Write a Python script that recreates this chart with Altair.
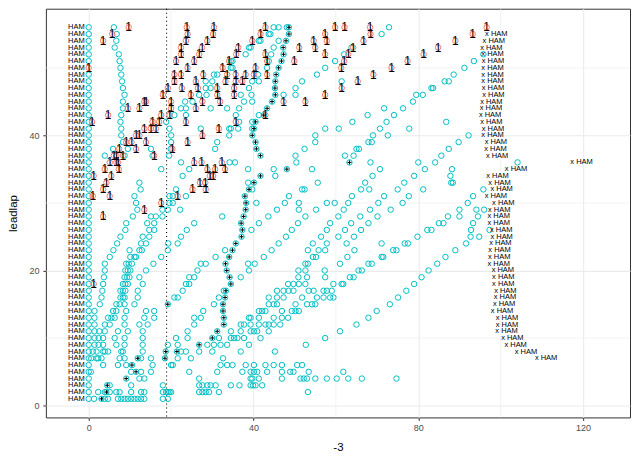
import altair as alt
import pandas as pd

# ---------------- data (gap to leader, seconds) per lap ----------------
# teal open circles, laps 1-14
TEAL_01_14 = [
    [0, 1.3, 3.9, 4.7, 7.1, 7.9, 8.7, 9.5, 10.3, 11.1, 11.9, 12.7, 13.5, 18.0, 19.2],
    [0, 2.3, 3.9, 5.1, 6.7, 7.5, 10.3, 12.7, 13.5, 18.0, 18.8, 19.2, 19.6, 20.0, 26.8, 27.6, 28.4, 29.2, 31.6, 53.2],
    [0, 5.1, 10.3, 18.0, 26.8, 27.6, 28.8, 29.6, 30.8, 34.5, 36.6, 39.3, 39.9, 40.5, 42.1],
    [0, 12.3, 13.5, 26.8, 39.3, 39.7, 41.3, 46.9, 51.4, 52.2, 53.0, 55.0, 57.8, 60.2, 63.0, 66.3, 74.7],
    [0, 0.5, 10.3, 12.7, 15.1, 24.4, 31.2, 37.3, 39.3, 40.1, 40.9, 43.3, 46.9, 48.9, 49.7, 53.4, 61.8],
    [0, 3.5, 7.1, 9.1, 15.5, 20.0, 20.4, 32.0, 33.6, 34.9, 38.1, 40.1, 42.9, 44.9, 46.9, 50.6, 51.8],
    [0, 0.6, 1.9, 2.3, 3.1, 7.5, 8.7, 12.7, 15.1, 21.6, 24.8, 32.6],
    [0, 1.0, 1.9, 3.5, 3.9, 4.7, 7.9, 8.3, 13.1, 22.4, 23.6, 26.8, 30.0, 36.9, 45.2],
    [0, 1.4, 2.4, 3.5, 6.7, 8.7, 13.1, 19.2, 21.6, 28.8, 30.4, 32.0, 33.6, 38.9, 52.7],
    [0, 1.4, 2.4, 3.5, 6.3, 8.7, 13.1, 21.2, 24.0, 31.6, 34.5, 35.3, 36.1, 37.7, 41.7, 57.4],
    [0, 1.4, 2.6, 3.9, 7.1, 9.5, 13.1, 24.0, 34.5, 36.9, 39.3, 40.1, 40.9, 43.7, 61.0],
    [0, 1.4, 3.9, 5.1, 8.7, 12.3, 14.3, 25.6, 36.9, 37.7, 39.3, 41.3, 42.9, 43.7, 44.9, 46.5, 65.0],
    [0, 1.4, 4.7, 5.5, 6.3, 8.7, 13.5, 15.9, 25.6, 27.2, 38.9, 39.3, 41.3, 44.9, 46.9, 48.4, 67.9],
    [0, 1.4, 5.9, 6.7, 9.1, 13.9, 15.9, 27.8, 41.3, 42.1, 42.9, 46.9, 49.3, 50.2, 51.0, 69.9],
]
# teal open circles, laps 15-28
TEAL_15_28 = [
    [0, 2.7, 6.7, 7.5, 8.7, 11.1, 30.4, 43.7, 44.9, 45.7, 50.2, 53.0, 54.2, 55.0, 73.1],
    [0, 3.1, 7.7, 8.3, 8.7, 11.9, 20.8, 21.6, 31.6, 43.7, 45.7, 47.3, 51.8, 55.4, 57.0, 58.6, 59.4, 75.1],
    [0, 3.3, 7.7, 8.3, 8.9, 11.9, 22.8, 32.8, 45.7, 47.3, 48.5, 49.7, 53.4, 54.6, 57.0, 57.8, 59.0, 77.1],
    [0, 3.5, 8.3, 8.9, 9.5, 13.1, 23.6, 24.4, 48.4, 49.7, 51.0, 52.6, 59.4, 61.4, 61.8, 79.0],
    [0, 3.7, 8.7, 9.3, 9.9, 12.3, 24.4, 25.6, 36.9, 50.9, 53.0, 57.4, 63.4, 64.3, 80.8],
    [0, 3.9, 8.9, 9.5, 10.1, 13.9, 26.4, 38.9, 50.9, 52.6, 57.3, 65.5, 66.3, 82.5],
    [0, 3.9, 9.1, 9.7, 10.5, 15.7, 27.2, 28.4, 38.7, 40.3, 52.6, 53.2, 61.0, 67.9, 68.7, 84.6],
    [0, 5.1, 10.1, 11.1, 11.5, 17.6, 30.8, 42.5, 54.4, 55.2, 62.8, 71.1, 71.5, 86.6],
    [0, 6.0, 9.9, 12.3, 12.9, 19.2, 33.1, 44.4, 53.2, 55.8, 57.4, 64.5, 73.9, 74.7, 89.0],
    [0, 6.9, 12.7, 13.9, 19.3, 21.6, 46.1, 54.4, 57.8, 62.6, 71.1, 76.7, 77.5, 91.6],
    [0, 7.7, 13.1, 14.7, 22.4, 47.9, 56.4, 60.6, 64.4, 79.8, 92.7, 94.8],
    [0, 8.9, 14.7, 15.9, 23.8, 39.5, 49.3, 57.8, 62.2, 66.1, 82.2, 83.2, 92.8, 97.3],
    [0, 9.1, 14.2, 15.9, 25.6, 41.3, 50.8, 58.6, 63.7, 67.9, 85.0, 86.1, 93.3],
    [0, 10.7, 15.1, 16.3, 17.9, 32.4, 43.6, 52.6, 60.6, 65.9, 70.1, 87.2, 90.0, 94.5],
]
# teal open circles, laps 29-42
TEAL_29_42 = [
    [0, 11.8, 17.9, 19.2, 22.2, 45.7, 51.0, 55.2, 61.9, 68.3, 73.3, 90.0, 94.1, 96.0],
    [0, 11.5, 19.6, 20.4, 40.7, 47.6, 51.0, 57.8, 59.7, 63.0, 70.3, 76.2, 92.0],
    [0, 11.1, 19.6, 20.4, 23.6, 48.6, 63.9, 71.7, 77.7, 93.3],
    [0, 12.6, 21.2, 39.7, 51.8, 52.4, 66.1, 68.1, 75.0, 81.2, 95.8],
    [0, 12.3, 38.7, 55.6, 67.1, 76.6, 88.0, 88.4],
    [0, 22.8, 45.3, 68.9, 79.0, 87.8],
    [0, 17.6, 24.4, 38.7, 44.9, 54.2, 70.7, 81.6, 88.2],
    [0, 22.4, 34.2, 35.5, 50.4, 68.4, 80.0, 84.1, 104.1],
    [0, 3.9, 8.7, 15.5, 19.5, 50.2, 62.2, 64.3, 85.6],
    [0, 5.9, 9.5, 15.1, 19.9, 30.7, 52.4, 65.0, 65.6, 87.4],
    [0, 8.3, 20.0, 31.2, 55.0, 67.9, 68.7, 89.8],
    [0, 7.9, 20.0, 34.1, 55.0, 69.0, 72.6, 92.2],
    [0, 7.9, 19.6, 27.2, 34.1, 34.5, 36.3, 39.7, 57.4, 60.7, 70.7, 77.8],
    [0, 7.7, 18.8, 36.5, 39.7, 64.0, 72.3, 86.8],
]
# teal open circles, laps 43-56
TEAL_43_56 = [
    [0, 7.9, 20.8, 23.6, 35.7, 41.3, 67.7, 74.1],
    [0, 8.3, 22.4, 23.6, 29.6, 33.6, 36.5, 71.7, 76.3],
    [0, 8.3, 23.4, 25.2, 37.7, 39.7, 78.7],
    [0, 8.7, 26.8, 28.6, 36.9, 39.5, 47.3, 50.2, 79.5, 81.1],
    [0, 8.3, 28.4, 29.6, 38.9, 50.2, 83.2, 83.6],
    [0, 8.1, 28.4, 30.0, 39.7, 41.3, 51.8, 61.4, 86.4, 87.4],
    [0, 7.9, 30.4, 31.2, 41.1, 55.4, 88.6],
    [7.7, 34.5, 34.9, 43.3, 57.4, 91.2],
    [0, 7.5, 34.5, 34.9, 43.7, 59.8, 93.5],
    [0, 7.3, 38.1, 44.3, 62.0, 95.8],
    [0, 6.3, 38.9, 39.3, 44.9, 63.8],
    [0, 6.7, 41.3, 41.7, 46.1],
    [0, 6.8, 43.7, 44.1, 71.1],
    [0, 6.1, 44.9, 46.1, 48.1, 72.9],
]

# teal circles carrying a black "+" (lap, gap)
PLUS_LAPS = [1, 2, 3, 4, 5, 6, 7, 7, 8, 8, 9, 10, 11, 12, 13, 14, 15, 15, 16, 17, 18,
             19, 20, 21, 22, 23, 24, 25, 26, 27, 28, 29, 30, 31, 32, 33, 34, 35, 36,
             37, 38, 39, 40, 41, 42, 43, 44, 45, 46, 47, 48, 49, 50, 51, 52, 53, 54, 55, 56]
PLUS_GAPS = [3.1, 4.3, 4.5, 9.1, 11.5, 10.5, 11.9, 18.5, 18.7, 21.4, 26.8, 30.0, 31.2,
             32.8, 32.8, 32.6, 19.2, 32.6, 33.1, 33.3, 34.5, 34.2, 33.5, 33.2, 34.1, 34.9,
             35.7, 37.1, 37.3, 37.0, 37.6, 38.1, 38.2, 37.9, 38.9, 40.1, 41.7, 48.1, 63.3,
             41.7, 40.7, 40.5, 39.7, 40.1, 40.5, 42.5, 43.3, 44.5, 45.3, 45.2, 45.3, 45.5,
             46.1, 46.8, 47.3, 47.2, 47.9, 48.6, 48.6]

# red circles with a black "1" (lap, gap)
RED_LAPS = [18, 28, 29, 30, 31, 31, 31, 32, 32, 32, 33, 33, 33, 34, 34, 34, 34,
            35, 35, 35, 35, 35, 36, 36, 36, 36, 36, 36, 37, 37, 37, 37, 38, 38, 38,
            39, 39, 39, 39, 40, 40, 40, 41, 41, 41, 41, 42, 42, 42, 42, 42,
            43, 43, 43, 43, 44, 44, 44, 44, 45, 45, 45, 45, 45, 45, 45,
            46, 46, 46, 46, 46, 47, 47, 47, 47, 47, 47, 48, 48, 48, 48, 48, 48,
            49, 49, 49, 49, 49, 49, 49, 49, 49, 50, 50, 50, 50, 50, 50,
            51, 51, 51, 51, 51, 51, 51, 52, 52, 52, 52, 52, 52, 52,
            53, 53, 53, 53, 53, 53, 53, 54, 54, 54, 54, 54, 54, 54, 54,
            55, 55, 55, 55, 55, 55, 55, 56, 56, 56, 56, 56, 56, 56, 56]
RED_GAPS = [1.2, 3.5, 13.5, 17.6, 1.0, 5.1, 21.6, 3.5, 25.2, 28.4, 4.3, 27.0, 28.3,
            1.2, 5.5, 29.4, 30.2, 3.9, 7.3, 28.8, 30.7, 33.1, 5.1, 6.7, 7.1, 25.6, 27.4,
            32.3, 6.1, 6.7, 8.3, 15.9, 7.4, 11.5, 20.3, 9.1, 10.4, 13.9, 24.0, 11.5,
            12.3, 27.6, 13.5, 15.1, 16.3, 31.6, 0.8, 15.5, 17.1, 23.6, 35.7,
            4.7, 17.6, 19.6, 42.9, 9.5, 12.3, 20.0, 26.0, 13.5, 13.9, 20.0, 27.6, 31.9,
            47.3, 52.6, 18.0, 24.8, 31.2, 35.3, 57.4, 19.2, 22.6, 26.5, 31.2, 35.3, 61.4,
            20.8, 26.0, 33.2, 35.7, 37.3, 65.3, 20.8, 22.4, 27.8, 33.6, 35.7, 38.1, 40.1,
            43.3, 69.1, 0, 24.0, 32.5, 40.5, 61.3, 73.5, 21.2, 25.6, 34.1, 43.3, 49.9,
            62.0, 77.4, 22.4, 26.8, 35.8, 42.9, 57.4, 63.0, 81.3, 22.4, 27.5, 36.3, 51.1,
            55.0, 64.2, 84.8, 3.5, 23.6, 28.8, 39.7, 54.6, 57.8, 66.7, 89.0, 5.7, 24.0,
            30.2, 41.7, 57.4, 68.4, 93.2, 9.7, 23.8, 30.4, 42.9, 59.8, 62.1, 68.3, 96.6]

# "x HAM" markers on the right
XMARK_LAPS = list(range(7, 56))
XMARK_GAPS = [108.8, 103.9, 101.4, 100.6, 99.2, 99.3, 99.3, 98.1, 98.6, 98.8, 98.9, 98.4,
              98.4, 98.3, 97.3, 97.4, 97.5, 97.7, 98.0, 97.9, 97.3, 97.3, 97.4, 98.4,
              96.6, 98.0, 97.5, 97.0, 101.5, 117.4, 96.9, 96.5, 96.6, 95.8, 95.9, 95.5,
              95.2, 95.4, 95.5, 96.0, 95.9, 95.8, 95.8, 95.8, 95.9, 95.8, 95.5, 96.1, 96.7]

LEFT_LABEL_X = -3          # the HAM labels sit at x = -3
LABEL_LAPS = list(range(1, 57))
PIT_LINE_X = 18.9
MINOR_X = [20, 60, 100]
MINOR_Y = [10, 30, 50]

# ---------------- tables ----------------
teal_rows = []
for start, block in [(1, TEAL_01_14), (15, TEAL_15_28), (29, TEAL_29_42), (43, TEAL_43_56)]:
    for i, vals in enumerate(block):
        for v in vals:
            teal_rows.append({"lap": start + i, "gap": v})
teal_df = pd.DataFrame(teal_rows + [{"lap": l, "gap": g} for l, g in zip(PLUS_LAPS, PLUS_GAPS)])
plus_df = pd.DataFrame({"lap": PLUS_LAPS, "gap": PLUS_GAPS})
red_df = pd.DataFrame({"lap": RED_LAPS, "gap": RED_GAPS, "t": ["1"] * len(RED_LAPS)})
xm_df = pd.DataFrame({"lap": XMARK_LAPS, "gap": XMARK_GAPS, "t": ["x HAM"] * len(XMARK_LAPS)})
lab_df = pd.DataFrame({"lap": LABEL_LAPS, "gap": [LEFT_LABEL_X] * len(LABEL_LAPS), "t": ["HAM"] * len(LABEL_LAPS)})

FONT = "Liberation Sans"
xs = alt.Scale(domain=[-10.4, 131.4], nice=False, zero=False)
ys = alt.Scale(domain=[-1.75, 58.75], nice=False, zero=False)
xaxis = alt.Axis(values=[0, 40, 80, 120], title="-3", grid=True)
yaxis = alt.Axis(values=[0, 20, 40], title="leadlap", grid=True)


def X(f):
    return alt.X(f, type="quantitative", scale=xs, axis=xaxis)


def Y(f):
    return alt.Y(f, type="quantitative", scale=ys, axis=yaxis)


minor_x = alt.Chart(pd.DataFrame({"v": MINOR_X})).mark_rule(color="#EBEBEB", strokeWidth=0.6).encode(x=X("v"))
minor_y = alt.Chart(pd.DataFrame({"v": MINOR_Y})).mark_rule(color="#EBEBEB", strokeWidth=0.6).encode(y=Y("v"))
pit = alt.Chart(pd.DataFrame({"v": [PIT_LINE_X]})).mark_rule(
    color="black", strokeWidth=1.1, strokeDash=[1, 3]).encode(x=X("v"))

teal = alt.Chart(teal_df).mark_point(
    shape="circle", filled=False, color="#00BFC4", size=30, strokeWidth=1, opacity=1
).encode(x=X("gap"), y=Y("lap"))

red = alt.Chart(red_df).mark_point(
    shape="circle", filled=False, color="#F8766D", size=30, strokeWidth=1, opacity=1
).encode(x=X("gap"), y=Y("lap"))

red_txt = alt.Chart(red_df).mark_text(
    font=FONT, fontSize=12, color="black", align="center", baseline="middle", dy=0
).encode(x=X("gap"), y=Y("lap"), text="t:N")

plus = alt.Chart(plus_df).mark_point(
    shape="M-1,0L1,0M0,-1L0,1", filled=False, color="black", size=16, strokeWidth=1, opacity=1
).encode(x=X("gap"), y=Y("lap"))

left_lab = alt.Chart(lab_df).mark_text(
    font=FONT, fontSize=7.5, color="black", align="center", baseline="middle"
).encode(x=X("gap"), y=Y("lap"), text="t:N")

right_lab = alt.Chart(xm_df).mark_text(
    font=FONT, fontSize=7.5, color="black", align="left", baseline="middle", dx=-2
).encode(x=X("gap"), y=Y("lap"), text="t:N")

chart = alt.layer(
    minor_x, minor_y, pit, teal, red, red_txt, plus, left_lab, right_lab
).properties(
    width=586, height=410,
    autosize=alt.AutoSizeParams(type="none"),
    padding={"left": 38, "top": 0, "right": 2, "bottom": 40},
).configure_view(
    stroke="#333333", strokeWidth=1
).configure_axis(
    labelFont=FONT, labelFontSize=9, labelColor="#4D4D4D",
    titleFont=FONT, titleFontSize=11.5, titleColor="black", titleFontWeight="normal",
    tickColor="#333333", tickSize=3, tickWidth=1,
    gridColor="#EBEBEB", gridWidth=1.1, domain=False,
).configure_axisX(
    labelPadding=3, titlePadding=9
).configure_axisY(
    labelPadding=4, titlePadding=10
)

chart.save("out.html", embed_options={"renderer": "svg", "actions": False})
